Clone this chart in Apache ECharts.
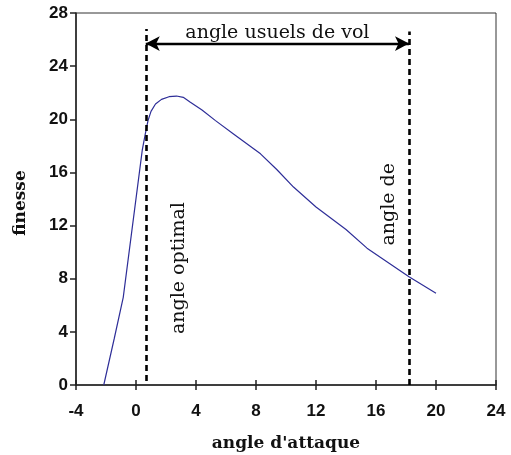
<!DOCTYPE html>
<html>
<head>
<meta charset="utf-8">
<script src="https://cdn.jsdelivr.net/npm/echarts@6/dist/echarts.min.js"></script>
<style>
  html, body { margin: 0; padding: 0; background: #fff; }
  #chart { width: 511px; height: 455px; }
</style>
</head>
<body>
<div id="chart"></div>
<script>
// angle d'attaque (deg) et finesse
var angles = [-2.15, -1.45, -0.85, 0.42, 0.62, 0.8, 1.0, 1.3, 1.7, 2.2, 2.7, 3.15, 3.6, 4.4, 5.3, 6.5, 8.3, 9.4, 10.5, 12.0, 14.0, 15.4, 18.2, 20.0];
var finesse = [0, 3.5, 6.6, 17.7, 18.9, 19.9, 20.6, 21.15, 21.5, 21.7, 21.75, 21.65, 21.3, 20.7, 19.9, 18.9, 17.4, 16.2, 14.9, 13.4, 11.7, 10.3, 8.15, 6.9];

var xTicks = [-4, 0, 4, 8, 12, 16, 20, 24];
var yTicks = [0, 4, 8, 12, 16, 20, 24, 28];

// lignes verticales (angle optimal, angle de decrochage)
var angleOptimal = 0.65;
var angleMax = 18.2;
var dashTops = [26.8, 26.6];
var arrowLevel = 25.7;

var chart = echarts.init(document.getElementById('chart'));

var serif = '"DejaVu Serif", "Liberation Serif", serif';
var sans = '"Liberation Sans", Arial, sans-serif';

var tickLabel = { color: '#111', fontFamily: sans, fontWeight: 'bold', fontSize: 17 };

chart.setOption({
  animation: false,
  grid: {
    left: 76, top: 13, width: 420, height: 372,
    outerBoundsMode: 'none',
    show: true, borderColor: '#333', borderWidth: 1
  },
  xAxis: [{
    type: 'value',
    min: xTicks[0], max: xTicks[xTicks.length - 1], interval: 4,
    axisLine: { onZero: false, lineStyle: { color: '#222', width: 1.5 } },
    axisTick: { length: 5, lineStyle: { color: '#222', width: 1.5 } },
    splitLine: { show: false },
    axisLabel: Object.assign({ margin: 18 }, tickLabel),
    name: "angle d'attaque",
    nameLocation: 'middle',
    nameGap: 50,
    nameTextStyle: { color: '#111', fontFamily: serif, fontWeight: 'bold', fontSize: 17 }
  }, {
    type: 'value',
    position: 'bottom',
    min: xTicks[0], max: xTicks[xTicks.length - 1], interval: 4,
    axisLine: { show: false, onZero: false },
    axisTick: { inside: true, length: 5, lineStyle: { color: '#222', width: 1.5 } },
    axisLabel: { show: false },
    splitLine: { show: false }
  }],
  yAxis: {
    type: 'value',
    min: yTicks[0], max: yTicks[yTicks.length - 1], interval: 4,
    axisLine: { show: true, onZero: false, lineStyle: { color: '#222', width: 1.5 } },
    axisTick: { show: true, length: 6, lineStyle: { color: '#222', width: 1.5 } },
    splitLine: { show: false },
    axisLabel: Object.assign({ margin: 8 }, tickLabel),
    name: 'finesse',
    nameLocation: 'middle',
    nameGap: 47,
    nameTextStyle: { color: '#111', fontFamily: serif, fontWeight: 'bold', fontSize: 17, padding: [0, 0, 0, -8] }
  },
  series: [{
    type: 'line',
    xAxisIndex: 0,
    data: angles.map(function (a, i) { return [a, finesse[i]]; }),
    showSymbol: false,
    smooth: false,
    lineStyle: { color: '#2e2e98', width: 1.2 },
    z: 3
  }, {
    type: 'line',
    xAxisIndex: 0,
    data: [],
    markLine: {
      silent: true,
      symbol: ['none', 'none'],
      label: { show: false },
      lineStyle: { color: '#000', width: 2.6, type: [6, 4] },
      data: [
        [{ coord: [angleOptimal, 0.3] }, { coord: [angleOptimal, dashTops[0]] }],
        [{ coord: [angleMax, 0] }, { coord: [angleMax, dashTops[1]] }]
      ]
    }
  }, {
    type: 'line',
    xAxisIndex: 0,
    data: [],
    markLine: {
      silent: true,
      symbol: ['arrow', 'arrow'],
      symbolSize: [11, 14],
      lineStyle: { color: '#000', width: 2.4, type: 'solid' },
      label: {
        show: true,
        position: 'middle',
        formatter: 'angle usuels de vol',
        color: '#111',
        fontFamily: serif,
        fontSize: 19,
        distance: 1
      },
      data: [
        [{ coord: [angleOptimal, arrowLevel] }, { coord: [angleMax, arrowLevel] }]
      ]
    }
  }]
});

// textes verticaux places depuis les coordonnees des donnees
var pOpt = chart.convertToPixel({ xAxisIndex: 0, yAxisIndex: 0 }, [angleOptimal, 8.8]);
var pMax = chart.convertToPixel({ xAxisIndex: 0, yAxisIndex: 0 }, [angleMax, 13.6]);
chart.setOption({
  graphic: [{
    type: 'text',
    x: pOpt[0] + 33, y: pOpt[1],
    rotation: Math.PI / 2,
    style: { text: 'angle optimal', font: '19px ' + serif, fill: '#111', align: 'center', verticalAlign: 'middle' }
  }, {
    type: 'text',
    x: pMax[0] - 20, y: pMax[1],
    rotation: Math.PI / 2,
    style: { text: 'angle de', font: '19px ' + serif, fill: '#111', align: 'center', verticalAlign: 'middle' }
  }]
});
</script>
</body>
</html>
